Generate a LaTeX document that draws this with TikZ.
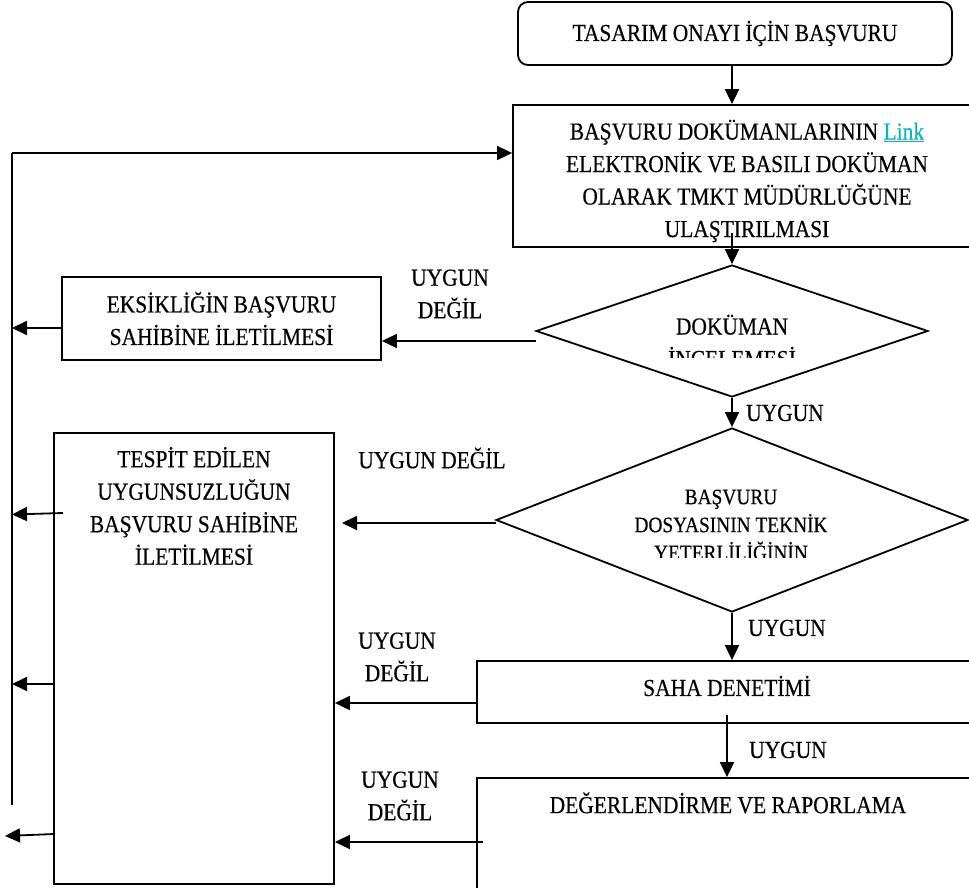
\documentclass[tikz,border=0pt]{standalone}
\usepackage{fontspec}
\setmainfont{Liberation Serif}[FakeStretch=0.88,FakeBold=0.4]
\usetikzlibrary{arrows.meta,shapes.geometric}
\definecolor{linkc}{RGB}{16,178,190}
\begin{document}
\begin{tikzpicture}[x=1pt,y=-1pt,
  txt/.style={font=\fontsize{24.4}{32.5}\selectfont, align=center, inner sep=0pt},
  dtxt/.style={font=\fontsize{22}{28}\selectfont, align=center, inner sep=0pt},
  box/.style={draw, line width=1.8pt, inner sep=0pt},
  dia/.style={draw, diamond, line width=1.8pt, inner sep=0pt},
  arr/.style={line width=1.8pt, -{Triangle[length=15pt,width=14pt]}},
  ln/.style={line width=1.8pt}]
\clip (0,0) rectangle (969,888);

% right column
\node[box, rounded corners=10pt, minimum width=434pt, minimum height=63pt, txt] (start) at (735,33.5) {TASARIM ONAYI İÇİN BAŞVURU};

\node[box, minimum width=468pt, minimum height=142pt] (docs) at (747,176) {};
\node[txt] (docsT) at (747,181) {BAŞVURU DOKÜMANLARININ \textcolor{linkc}{\underline{Link}}\\ELEKTRONİK VE BASILI DOKÜMAN\\OLARAK TMKT MÜDÜRLÜĞÜNE\\ULAŞTIRILMASI};

\node[dia, minimum width=392pt, minimum height=132pt] (d1) at (732,331) {};
\begin{scope}
\clip (540,280) rectangle (925,357);
\node[txt] (d1T) at (732,341) {DOKÜMAN\\İNCELEMESİ};
\end{scope}

\node[dia, minimum width=472pt, minimum height=184pt] (d2) at (732,520) {};
\begin{scope}
\clip (500,440) rectangle (960,557);
\node[dtxt] (d2T) at (731,525) {BAŞVURU\\DOSYASININ TEKNİK\\YETERLİLİĞİNİN};
\end{scope}

\node[box, minimum width=500pt, minimum height=62pt] (saha) at (727,692) {};
\node[txt] (sahaT) at (727,686) {SAHA DENETİMİ};

\node[box, minimum width=500pt, minimum height=112pt] (deg) at (727,834) {};
\node[txt] (degT) at (728,803) {DEĞERLENDİRME VE RAPORLAMA};

% left column
\node[box, minimum width=319pt, minimum height=83pt, txt] (eks) at (221.5,318.5) {EKSİKLİĞİN BAŞVURU\\SAHİBİNE İLETİLMESİ};

\node[box, minimum width=280pt, minimum height=451pt] (tes) at (194,658.5) {};
\node[txt] (tesT) at (194,506) {TESPİT EDİLEN\\UYGUNSUZLUĞUN\\BAŞVURU SAHİBİNE\\İLETİLMESİ};

% labels
\node[txt] (l1) at (450,294) {UYGUN\\DEĞİL};
\node[txt] (l2) at (432,458) {UYGUN DEĞİL};
\node[txt] (l3) at (397,657) {UYGUN\\DEĞİL};
\node[txt] (l4) at (400,796) {UYGUN\\DEĞİL};
\node[txt, anchor=west] (u1) at (746,413) {UYGUN};
\node[txt, anchor=west] (u2) at (748,628) {UYGUN};
\node[txt, anchor=west] (u3) at (749,750) {UYGUN};

% main flow
\draw[arr] (start.south -| d1.north) -- (docs.north -| d1.north);
\coordinate (c2) at (732,233);
\draw[arr] (c2) -- (d1.north);
\draw[arr] (d1.south) -- (d2.north);
\draw[arr] (d2.south) -- (d2.south |- saha.north);
\coordinate (c5) at (727,715);
\draw[arr] (c5) -- (c5 |- deg.north);

% feedback trunk
\coordinate (tTop) at (12,153);
\coordinate (tBot) at (12,805);
\draw[ln] (tBot) -- (tTop);
\draw[arr] (tTop) -- (tTop -| docs.west);

% not-suitable branches
\coordinate (p1) at (536,341);
\draw[arr] (p1) -- (p1 -| eks.east);
\coordinate (e1) at (62,328);
\draw[arr] (e1) -- (e1 -| tTop);
\coordinate (p2) at (496,523);
\coordinate (p2e) at (342,523);
\draw[arr] (p2) -- (p2e);
\coordinate (p3) at (478,703);
\draw[arr] (p3) -- (p3 -| tes.east);
\coordinate (p4) at (483,842);
\draw[arr] (p4) -- (p4 -| tes.east);
\coordinate (t1) at (63,513);
\coordinate (t1e) at (12,514.5);
\draw[arr] (t1) -- (t1e);
\coordinate (t2) at (54,684);
\draw[arr] (t2) -- (t2 -| tTop);
\coordinate (t3) at (54,834);
\coordinate (t3e) at (5,836);
\draw[arr] (t3) -- (t3e);
\end{tikzpicture}
\end{document}
